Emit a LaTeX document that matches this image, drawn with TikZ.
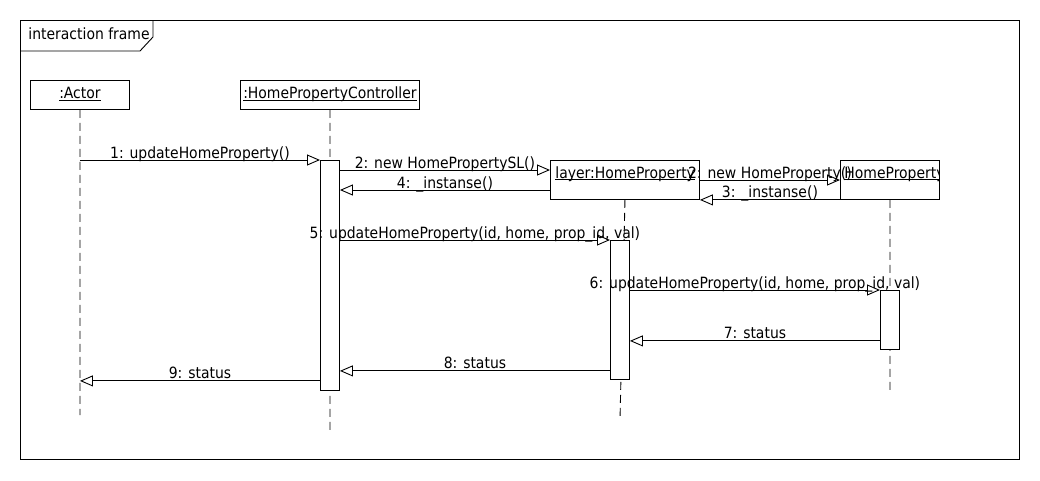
\documentclass[tikz,border=0pt]{standalone}
\usepackage{fontspec}
\setmainfont{DejaVu Sans Condensed}
\usetikzlibrary{arrows.meta}
\usetikzlibrary{calc}
\newcommand{\objname}[1]{\leavevmode\setbox0\hbox{#1}\rlap{\rule[-1.8pt]{\wd0}{0.8pt}}\box0}

\begin{document}
\begin{tikzpicture}[x=1pt, y=-1pt, line width=0.9pt,
    font=\fontsize{15.5}{18}\selectfont,
    objbox/.style={draw, minimum height=29pt, inner sep=0pt, anchor=north west, text height=11pt, text depth=3pt},
    actbar/.style={draw, fill=white, minimum width=19pt, inner sep=0pt, anchor=north west},
    lifeline/.style={dash pattern=on 8pt off 5pt},
    msg/.style={-{Triangle[open, length=13pt, width=11pt]}},
    msglabel/.style={anchor=base, midway, yshift=2pt, inner sep=0pt}]
            \useasboundingbox (0,0) rectangle (1040,480);

            % Interaction frame
            \draw (20,20) rectangle (1019,459);
            \draw (20,51) -- (140,51) -- (153,37) -- (153,20);
            \node[anchor=base west, inner sep=0pt] (frame name) at (28,39) {interaction frame};

            % Objects
            \node[objbox, minimum width=99pt] (actor) at (30,80) {\objname{:Actor}};
            \node[objbox, minimum width=179pt] (ctrl) at (240,80) {\objname{:HomePropertyController}};
            \node[objbox, minimum width=149pt, minimum height=39pt] (layer) at (550,160) {};
            \node[anchor=base west, inner sep=0pt] (layer name) at ($(layer.north west)+(5,18)$) {\objname{layer:HomeProperty}};
            \node[objbox, minimum width=99pt, minimum height=39pt] (hp) at (840,160) {};
            \begin{scope}
                \clip (hp.north west) rectangle (hp.south east);
                \node[anchor=base west, inner sep=0pt] (hp name) at ($(hp.north west)+(4,18)$) {\objname{HomeProperty}};
            \end{scope}

            % Lifelines
            \coordinate (actor end) at (80,415);
            \coordinate (ctrl end) at (330,430);
            \coordinate (layer end) at (620,420);
            \coordinate (hp end) at (890,390);
            \draw[lifeline] (actor.south) -- (actor end);
            \draw[lifeline] (ctrl.south) -- (ctrl end);
            \draw[lifeline] (layer.south) -- (layer end);
            \draw[lifeline] (hp.south) -- (hp end);

            % Activations
            \node[actbar, minimum height=230pt] (cact) at (320,160) {};
            \node[actbar, minimum height=139pt] (lact) at (610,240) {};
            \node[actbar, minimum height=59pt] (hact) at (880,290) {};

            % Messages
            \draw[msg] (actor.south |- cact.north west) -- (cact.north west) node[msglabel] {1: updateHomeProperty()};

            \coordinate (m2) at ($(cact.north east)+(0,10)$);
            \draw[msg] (m2) -- (layer.west |- m2) node[msglabel] {2: new HomePropertySL()};

            \coordinate (m4) at ($(layer.north west)+(0,30)$);
            \draw[msg] (m4) -- (cact.east |- m4) node[msglabel] {4: \_instanse()};

            \coordinate (m2b) at ($(layer.north east)+(0,20)$);
            \draw[msg] (m2b) -- (hp.west |- m2b) node[msglabel] {2: new HomeProperty()};

            \draw[msg] (hp.south west) -- (layer.south east) node[msglabel] {3: \_instanse()};

            \draw[msg] (cact.east |- lact.north) -- (lact.north west) node[msglabel] {5: updateHomeProperty(id, home, prop\_id, val)};

            \draw[msg] (lact.east |- hact.north) -- (hact.north west) node[msglabel] {6: updateHomeProperty(id, home, prop\_id, val)};

            \coordinate (m7) at ($(hact.south west)+(0,-9)$);
            \draw[msg] (m7) -- (lact.east |- m7) node[msglabel] {7: status};

            \coordinate (m8) at ($(lact.south west)+(0,-9)$);
            \draw[msg] (m8) -- (cact.east |- m8) node[msglabel] {8: status};

            \coordinate (m9) at ($(cact.south west)+(0,-10)$);
            \draw[msg] (m9) -- (actor.south |- m9) node[msglabel] {9: status};

        \end{tikzpicture}
\end{document}
